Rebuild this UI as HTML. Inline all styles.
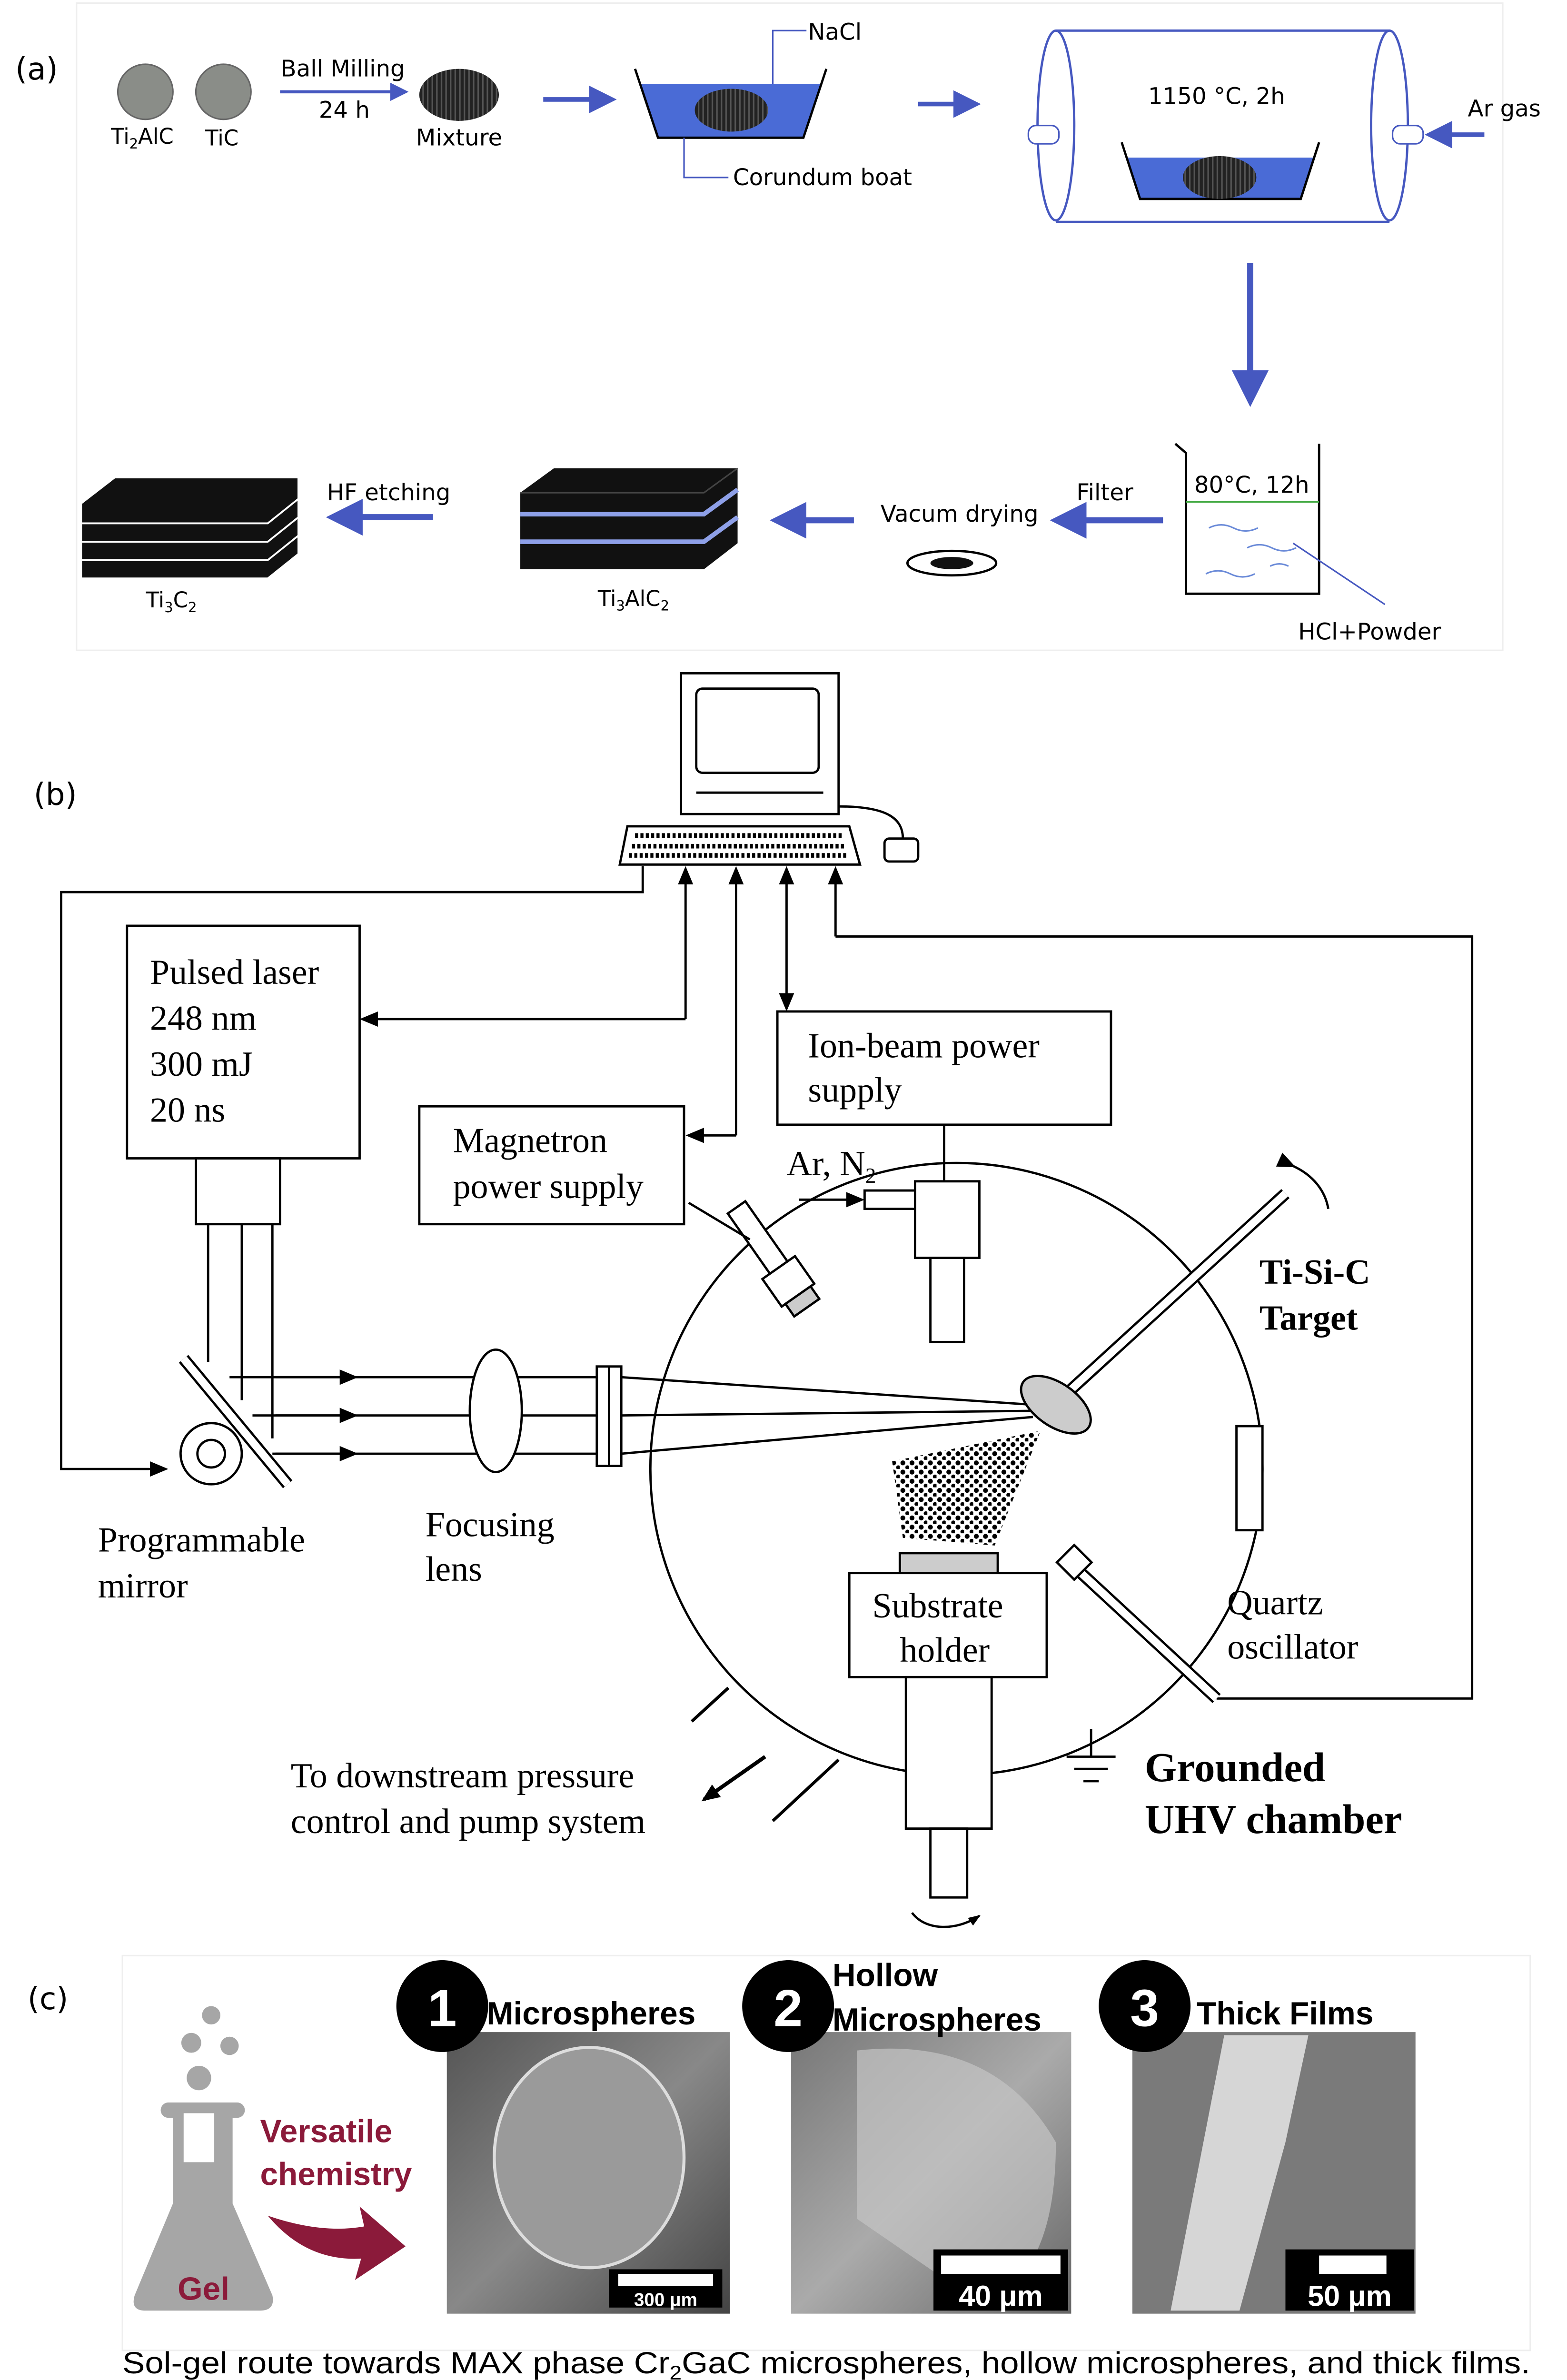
<!DOCTYPE html>
<html><head><meta charset="utf-8"><style>
html,body{margin:0;padding:0;background:#fff;overflow:hidden;width:3292px;height:5059px}
svg{display:block}
.s{font-family:"DejaVu Sans","Liberation Sans",sans-serif}
.t{font-family:"Liberation Serif",serif}
.h{font-family:"Liberation Sans",sans-serif;font-weight:bold}
</style></head><body>
<svg width="3292" height="5059" viewBox="0 0 1024 1573.7" preserveAspectRatio="none" xmlns="http://www.w3.org/2000/svg">
<defs>
<marker id="ab" markerWidth="6" markerHeight="6" refX="5" refY="3" orient="auto"><path d="M0,0 L6,3 L0,6 z" fill="#4658c0"/></marker>
<marker id="ak" markerWidth="8" markerHeight="8" refX="7" refY="4" orient="auto" markerUnits="userSpaceOnUse"><path d="M0,1 L8,4 L0,7 z" fill="#000"/></marker>
<marker id="ar" markerWidth="12" markerHeight="12" refX="10" refY="6" orient="auto" markerUnits="userSpaceOnUse"><path d="M0,1 L12,6 L0,11 z" fill="#000"/></marker>
<pattern id="dots" width="6" height="6" patternUnits="userSpaceOnUse"><circle cx="2" cy="2" r="1.6" fill="#000"/><circle cx="5" cy="5" r="1.4" fill="#000"/></pattern>
<pattern id="stripe" width="3" height="3" patternUnits="userSpaceOnUse"><rect width="3" height="3" fill="#222"/><rect width="1" height="3" fill="#555"/></pattern>
<linearGradient id="g1" x1="0" y1="0" x2="1" y2="1"><stop offset="0" stop-color="#555"/><stop offset=".5" stop-color="#888"/><stop offset="1" stop-color="#444"/></linearGradient>
<linearGradient id="g2" x1="0" y1="0" x2="1" y2="1"><stop offset="0" stop-color="#777"/><stop offset=".5" stop-color="#aaa"/><stop offset="1" stop-color="#666"/></linearGradient>
</defs>

<!-- Panel (a) -->
<rect x="50" y="2" width="932" height="423" fill="none" stroke="#eee"/>
<text x="10" y="52" class="s" font-size="20">(a)</text>
<circle cx="95" cy="60" r="18" fill="#8a8d88" stroke="#666"/>
<circle cx="146" cy="60" r="18" fill="#8a8d88" stroke="#666"/>
<text x="93" y="94" class="s" font-size="14" text-anchor="middle">Ti<tspan font-size="9" dy="3">2</tspan><tspan dy="-3">AlC</tspan></text>
<text x="145" y="95" class="s" font-size="14" text-anchor="middle">TiC</text>
<text x="224" y="50" class="s" font-size="15" text-anchor="middle">Ball Milling</text>
<line x1="183" y1="60" x2="265" y2="60" stroke="#4658c0" stroke-width="2" marker-end="url(#ab)"/>
<text x="225" y="77" class="s" font-size="15" text-anchor="middle">24 h</text>
<ellipse cx="300" cy="62" rx="26" ry="17" fill="url(#stripe)"/>
<text x="300" y="95" class="s" font-size="15" text-anchor="middle">Mixture</text>
<line x1="355" y1="65" x2="400" y2="65" stroke="#4658c0" stroke-width="3" marker-end="url(#ab)"/>
<path d="M418,55 L537,55 L525,90 L430,90 z" fill="#4a6bd6"/>
<path d="M415,45 L430,90 L525,90 L540,45" fill="none" stroke="#000" stroke-width="1.5"/>
<ellipse cx="478" cy="72" rx="24" ry="14" fill="url(#stripe)"/>
<polyline points="505,55 505,20 527,20" fill="none" stroke="#4658c0"/>
<text x="528" y="26" class="s" font-size="15">NaCl</text>
<polyline points="447,90 447,116 476,116" fill="none" stroke="#4658c0"/>
<text x="479" y="121" class="s" font-size="15">Corundum boat</text>
<line x1="600" y1="68" x2="638" y2="68" stroke="#4658c0" stroke-width="3" marker-end="url(#ab)"/>
<path d="M690,20 L908,20 M690,145 L908,145" stroke="#4658c0" stroke-width="1.5"/>
<ellipse cx="690" cy="82" rx="12" ry="62" fill="none" stroke="#4658c0" stroke-width="1.5"/>
<ellipse cx="908" cy="82" rx="12" ry="62" fill="none" stroke="#4658c0" stroke-width="1.5"/>
<rect x="672" y="82" width="20" height="12" rx="5" fill="#fff" stroke="#4658c0"/>
<rect x="910" y="82" width="20" height="12" rx="5" fill="#fff" stroke="#4658c0"/>
<text x="795" y="68" class="s" font-size="15" text-anchor="middle">1150 °C, 2h</text>
<path d="M737,103 L858,103 L850,130 L745,130 z" fill="#4a6bd6"/>
<path d="M733,93 L745,130 L850,130 L862,93" fill="none" stroke="#000" stroke-width="1.5"/>
<ellipse cx="797" cy="116" rx="24" ry="14" fill="url(#stripe)"/>
<line x1="970" y1="88" x2="934" y2="88" stroke="#4658c0" stroke-width="3" marker-end="url(#ab)"/>
<text x="983" y="76" class="s" font-size="15" text-anchor="middle">Ar gas</text>
<line x1="817" y1="172" x2="817" y2="262" stroke="#4658c0" stroke-width="4" marker-end="url(#ab)"/>
<path d="M768,290 L775,296 L775,388 L862,388 L862,290" fill="none" stroke="#000" stroke-width="1.5"/>
<line x1="775" y1="328" x2="862" y2="328" stroke="#4a4"/>
<text x="818" y="322" class="s" font-size="15" text-anchor="middle">80°C, 12h</text>
<g stroke="#6a8ad8" fill="none"><path d="M790,345 q8,-4 16,0 q8,4 16,0"/><path d="M815,358 q8,-4 16,0 q8,4 16,0"/><path d="M788,375 q8,-4 16,0 q8,4 16,0"/><path d="M830,370 q6,-3 12,0"/></g>
<line x1="845" y1="355" x2="905" y2="395" stroke="#4658c0"/>
<text x="895" y="418" class="s" font-size="15" text-anchor="middle">HCl+Powder</text>
<line x1="760" y1="340" x2="690" y2="340" stroke="#4658c0" stroke-width="4" marker-end="url(#ab)"/>
<text x="722" y="327" class="s" font-size="15" text-anchor="middle">Filter</text>
<text x="627" y="341" class="s" font-size="15" text-anchor="middle">Vacum drying</text>
<ellipse cx="622" cy="368" rx="29" ry="8" fill="#fff" stroke="#000" stroke-width="1.5"/>
<ellipse cx="622" cy="368" rx="14" ry="4" fill="#111"/>
<line x1="558" y1="340" x2="507" y2="340" stroke="#4658c0" stroke-width="4" marker-end="url(#ab)"/>
<path d="M340,322 L362,306 L482,306 L482,355 L460,372 L340,372 z" fill="#111"/>
<path d="M340,336 L460,336 L482,320" fill="none" stroke="#8ea0e8" stroke-width="3"/>
<path d="M340,354 L460,354 L482,338" fill="none" stroke="#8ea0e8" stroke-width="3"/>
<path d="M340,322 L460,322 L482,306" fill="none" stroke="#444" stroke-width="1"/>
<text x="414" y="396" class="s" font-size="14" text-anchor="middle">Ti<tspan font-size="9" dy="3">3</tspan><tspan dy="-3">AlC</tspan><tspan font-size="9" dy="3">2</tspan></text>
<line x1="283" y1="338" x2="217" y2="338" stroke="#4658c0" stroke-width="4" marker-end="url(#ab)"/>
<text x="254" y="327" class="s" font-size="15" text-anchor="middle">HF etching</text>
<g fill="#111" stroke="#fff" stroke-width="1.2">
<path d="M53,365 L175,365 L195,350 L195,362 L175,378 L53,378 z"/>
<path d="M53,353 L175,353 L195,338 L195,350 L175,366 L53,366 z"/>
<path d="M53,341 L175,341 L195,326 L195,338 L175,354 L53,354 z"/>
<path d="M53,329 L75,312 L195,312 L195,326 L175,342 L53,342 z"/>
</g>
<text x="112" y="397" class="s" font-size="14" text-anchor="middle">Ti<tspan font-size="9" dy="3">3</tspan><tspan dy="-3">C</tspan><tspan font-size="9" dy="3">2</tspan></text>

<!-- Panel (b) -->
<text x="22" y="526" class="s" font-size="20">(b)</text>
<g stroke="#000" fill="none" stroke-width="1.5">
<rect x="445" y="440" width="103" height="92" fill="#fff"/>
<rect x="455" y="450" width="80" height="55" rx="4"/>
<line x1="455" y1="518" x2="538" y2="518"/>
<path d="M410,540 L555,540 L562,565 L405,565 z" fill="#fff"/>
<path d="M415,546 L550,546 M413,553 L552,553 M411,559 L554,559" stroke-dasharray="2,1.5" stroke-width="3"/>
<rect x="578" y="548" width="22" height="15" rx="3"/>
<path d="M548,527 C580,527 590,535 590,548"/>
</g>
<g stroke="#000" fill="none" stroke-width="1.5">
<polyline points="420,566 420,583 40,583 40,960 108,960" marker-end="url(#ar)"/>
<line x1="448" y1="666" x2="448" y2="568" marker-end="url(#ar)"/>
<polyline points="448,666 237,666" marker-end="url(#ar)"/>
<line x1="481" y1="742" x2="481" y2="568" marker-end="url(#ar)"/>
<polyline points="481,742 450,742" marker-end="url(#ar)"/>
<line x1="514" y1="600" x2="514" y2="568" marker-end="url(#ar)"/>
<line x1="514" y1="600" x2="514" y2="659" marker-end="url(#ar)"/>
<line x1="546" y1="612" x2="546" y2="568" marker-end="url(#ar)"/>
<polyline points="546,612 962,612 962,1110 795,1110"/>
<rect x="83" y="605" width="152" height="152"/>
<rect x="128" y="757" width="55" height="43"/>
<line x1="136" y1="800" x2="136" y2="890"/><line x1="158" y1="800" x2="158" y2="915"/><line x1="178" y1="800" x2="178" y2="940"/>
<line x1="120" y1="888" x2="188" y2="970" stroke-width="8"/>
<line x1="120" y1="888" x2="188" y2="970" stroke="#fff" stroke-width="5"/>
<circle cx="138" cy="950" r="20" fill="#fff"/>
<circle cx="138" cy="950" r="9"/>
<line x1="150" y1="900" x2="390" y2="900"/><line x1="165" y1="925" x2="390" y2="925"/><line x1="178" y1="950" x2="390" y2="950"/>
<line x1="180" y1="900" x2="232" y2="900" marker-end="url(#ar)"/><line x1="180" y1="925" x2="232" y2="925" marker-end="url(#ar)"/><line x1="180" y1="950" x2="232" y2="950" marker-end="url(#ar)"/>
<ellipse cx="324" cy="922" rx="17" ry="40" fill="#fff"/>
<circle cx="625" cy="960" r="200"/>
<rect x="390" y="893" width="16" height="65" fill="#fff"/>
<line x1="398" y1="893" x2="398" y2="958"/>
<line x1="406" y1="900" x2="675" y2="918"/><line x1="406" y1="925" x2="675" y2="922"/><line x1="406" y1="950" x2="675" y2="926"/>
<rect x="274" y="723" width="173" height="77" fill="#fff"/>
<rect x="508" y="661" width="218" height="74" fill="#fff"/>
<line x1="617" y1="735" x2="617" y2="772"/>
<rect x="598" y="772" width="42" height="50" fill="#fff"/>
<rect x="608" y="822" width="22" height="55" fill="#fff"/>
<rect x="565" y="778" width="33" height="12" fill="#fff"/>
<line x1="522" y1="784" x2="563" y2="784" marker-end="url(#ar)"/>
<g transform="rotate(-35 510 830)"><rect x="503" y="780" width="14" height="50" fill="#fff"/><rect x="497" y="828" width="26" height="22" fill="#fff"/><rect x="500" y="850" width="20" height="10" fill="#ccc"/></g>
<line x1="450" y1="786" x2="490" y2="810"/>
<line x1="700" y1="908" x2="840" y2="780" stroke-width="8"/>
<line x1="700" y1="908" x2="840" y2="780" stroke="#fff" stroke-width="5"/>
<ellipse cx="690" cy="918" rx="26" ry="14" transform="rotate(35 690 918)" fill="#ccc"/>
<path d="M845,762 C858,768 866,778 868,790" marker-start="url(#ar)"/>
<rect x="808" y="932" width="17" height="68" fill="#fff"/>
<rect x="588" y="1015" width="64" height="13" fill="#ccc"/>
<rect x="555" y="1028" width="129" height="68" fill="#fff"/>
<rect x="592" y="1096" width="56" height="99" fill="#fff"/>
<rect x="608" y="1195" width="24" height="45" fill="#fff"/>
<path d="M596,1250 C605,1262 625,1262 640,1252" marker-end="url(#ak)"/>
<line x1="700" y1="1022" x2="795" y2="1110" stroke-width="8"/>
<line x1="700" y1="1022" x2="795" y2="1110" stroke="#fff" stroke-width="5"/>
<rect x="694" y="1013" width="16" height="16" transform="rotate(45 702 1021)" fill="#fff"/>
<line x1="455" y1="1125" x2="476" y2="1103" stroke="#fff" stroke-width="14"/>
<line x1="452" y1="1125" x2="476" y2="1103" stroke-width="2"/>
<line x1="505" y1="1190" x2="548" y2="1150" stroke-width="2"/>
<line x1="500" y1="1148" x2="460" y2="1176" stroke-width="2.5" marker-end="url(#ar)"/>
<line x1="713" y1="1130" x2="713" y2="1148"/>
<line x1="697" y1="1148" x2="729" y2="1148"/><line x1="702" y1="1156" x2="724" y2="1156"/><line x1="708" y1="1164" x2="718" y2="1164"/>
</g>
<path d="M583,955 L680,935 L650,1010 L590,1005 z" fill="url(#dots)"/>
<g class="t" font-size="23">
<text x="98" y="643">Pulsed laser</text><text x="98" y="673">248 nm</text><text x="98" y="703">300 mJ</text><text x="98" y="733">20 ns</text>
<text x="296" y="753">Magnetron</text><text x="296" y="783">power supply</text>
<text x="528" y="691">Ion-beam power</text><text x="528" y="720">supply</text>
<text x="514" y="768">Ar, N<tspan font-size="14" dy="5">2</tspan></text>
<text x="64" y="1014">Programmable</text><text x="64" y="1044">mirror</text>
<text x="278" y="1004">Focusing</text><text x="278" y="1033">lens</text>
<text x="570" y="1057">Substrate</text><text x="588" y="1086">holder</text>
<text x="802" y="1055">Quartz</text><text x="802" y="1084">oscillator</text>
<text x="190" y="1168">To downstream pressure</text><text x="190" y="1198">control and pump system</text>
<text x="823" y="839" font-weight="bold">Ti-Si-C</text><text x="823" y="869" font-weight="bold">Target</text>
<text x="748" y="1164" font-weight="bold" font-size="27">Grounded</text><text x="748" y="1198" font-weight="bold" font-size="27">UHV chamber</text>
</g>

<!-- Panel (c) -->
<rect x="80" y="1278" width="920" height="258" fill="none" stroke="#eee"/>
<text x="18" y="1313" class="s" font-size="20">(c)</text>
<g fill="#a6a6a6">
<circle cx="138" cy="1317" r="6"/><circle cx="125" cy="1335" r="6.5"/><circle cx="150" cy="1337" r="6"/><circle cx="130" cy="1358" r="8"/>
<rect x="105" y="1374" width="55" height="10" rx="5"/>
<path d="M113,1384 L152,1384 L152,1440 L178,1500 Q180,1510 170,1510 L95,1510 Q85,1510 88,1500 L113,1440 z"/>
</g>
<rect x="120" y="1381" width="20" height="32" fill="#fff"/>
<text x="133" y="1503" class="h" font-size="21" fill="#8b1a3a" text-anchor="middle">Gel</text>
<text x="170" y="1400" class="h" font-size="21" fill="#8b1a3a">Versatile</text>
<text x="170" y="1428" class="h" font-size="21" fill="#8b1a3a">chemistry</text>
<path d="M175,1448 Q210,1460 238,1455 L235,1442 L265,1468 L232,1490 L236,1476 Q200,1478 175,1448 z" fill="#8b1a3a"/>
<rect x="292" y="1328" width="185" height="184" fill="url(#g1)"/>
<ellipse cx="385" cy="1410" rx="62" ry="72" fill="#9a9a9a" stroke="#ddd" stroke-width="2"/>
<rect x="517" y="1328" width="183" height="184" fill="url(#g2)"/>
<path d="M560,1340 Q650,1330 690,1400 Q690,1490 640,1505 L560,1450 z" fill="#c4c4c4" opacity=".7"/>
<rect x="740" y="1328" width="185" height="184" fill="#7a7a7a"/>
<path d="M800,1330 L855,1330 L840,1400 L810,1510 L765,1510 z" fill="#d6d6d6"/>
<rect x="398" y="1483" width="74" height="25" fill="#000"/><rect x="404" y="1486" width="62" height="8" fill="#fff"/>
<text x="435" y="1507" class="h" font-size="12" fill="#fff" text-anchor="middle">300 μm</text>
<rect x="610" y="1470" width="88" height="40" fill="#000"/><rect x="615" y="1474" width="78" height="12" fill="#fff"/>
<text x="654" y="1507" class="h" font-size="19" fill="#fff" text-anchor="middle">40 μm</text>
<rect x="840" y="1470" width="84" height="40" fill="#000"/><rect x="862" y="1474" width="44" height="12" fill="#fff"/>
<text x="882" y="1507" class="h" font-size="19" fill="#fff" text-anchor="middle">50 μm</text>
<circle cx="289" cy="1311" r="30" fill="#000"/><text x="289" y="1324" class="h" font-size="34" fill="#fff" text-anchor="middle">1</text>
<circle cx="515" cy="1311" r="30" fill="#000"/><text x="515" y="1324" class="h" font-size="34" fill="#fff" text-anchor="middle">2</text>
<circle cx="748" cy="1311" r="30" fill="#000"/><text x="748" y="1324" class="h" font-size="34" fill="#fff" text-anchor="middle">3</text>
<text x="318" y="1323" class="h" font-size="21">Microspheres</text>
<text x="544" y="1298" class="h" font-size="21">Hollow</text>
<text x="544" y="1327" class="h" font-size="21">Microspheres</text>
<text x="782" y="1323" class="h" font-size="21">Thick Films</text>
<text x="80" y="1551" font-family="Liberation Sans,sans-serif" font-size="20" textLength="920" lengthAdjust="spacingAndGlyphs">Sol-gel route towards MAX phase Cr<tspan font-size="13" dy="4">2</tspan><tspan dy="-4">GaC microspheres, hollow microspheres, and thick films.</tspan></text>
</svg>
</body></html>
